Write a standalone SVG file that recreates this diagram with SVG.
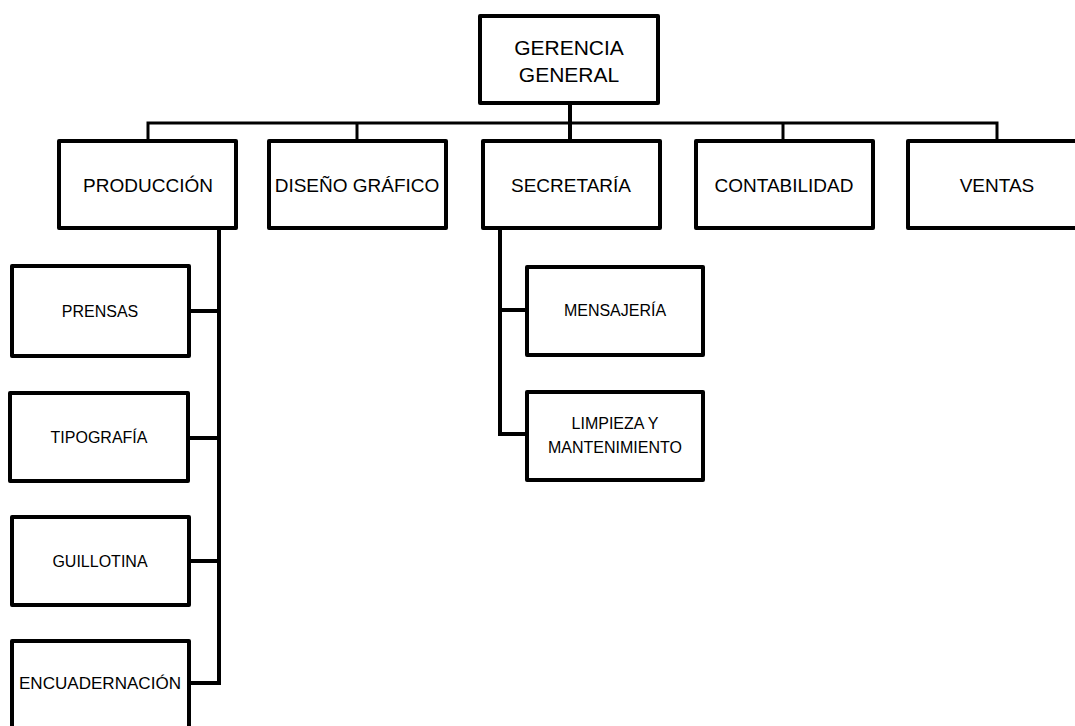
<svg xmlns="http://www.w3.org/2000/svg" width="1075" height="726" viewBox="0 0 1075 726">
  <style>
    .box { fill: #ffffff; stroke: #000000; stroke-width: 4; stroke-linejoin: round; }
    .line { fill: none; stroke: #000000; stroke-linejoin: miter; }
    .thin { stroke-width: 3; }
    .thick { stroke-width: 4; }
    text { font-family: "Liberation Sans", Arial, sans-serif; fill: #000000; text-anchor: middle; }
    .t1 { font-size: 19px; }
    .t0 { font-size: 21px; }
    .t2 { font-size: 16px; }
  </style>
  <rect width="1075" height="726" fill="#ffffff"/>

  <!-- connectors -->
  <g id="connectors">
    <path class="line thin" d="M148 141 V123 H997 V141"/>
    <path class="line thin" d="M357 123 V141"/>
    <path class="line thin" d="M783 123 V141"/>
    <path class="line thick" d="M570 103 V141"/>
    <path class="line thick" d="M219 228 V683 H189"/>
    <path class="line thick" d="M219 311 H189 M219 438 H189 M219 561 H189"/>
    <path class="line thick" d="M500 228 V434 H527 M500 310 H527"/>
  </g>

  <g id="gerencia">
    <rect class="box" x="480" y="16" width="178" height="87"/>
    <text class="t0" x="569" y="55">GERENCIA</text>
    <text class="t0" x="569" y="82">GENERAL</text>
  </g>

  <g id="produccion">
    <rect class="box" x="59" y="141" width="177" height="87"/>
    <text class="t1" x="148" y="192">PRODUCCIÓN</text>
  </g>
  <g id="diseno">
    <rect class="box" x="269" y="141" width="177" height="87"/>
    <text class="t1" x="357" y="192">DISEÑO GRÁFICO</text>
  </g>
  <g id="secretaria">
    <rect class="box" x="483" y="141" width="177" height="87"/>
    <text class="t1" x="571" y="192">SECRETARÍA</text>
  </g>
  <g id="contabilidad">
    <rect class="box" x="696" y="141" width="177" height="87"/>
    <text class="t1" x="784" y="192">CONTABILIDAD</text>
  </g>
  <g id="ventas">
    <rect class="box" x="908" y="141" width="177" height="87"/>
    <text class="t1" x="997" y="192">VENTAS</text>
  </g>

  <g id="prensas">
    <rect class="box" x="12" y="266" width="177" height="90"/>
    <text class="t2" x="100" y="317">PRENSAS</text>
  </g>
  <g id="tipografia">
    <rect class="box" x="10" y="393" width="178" height="88"/>
    <text class="t2" x="99" y="443">TIPOGRAFÍA</text>
  </g>
  <g id="guillotina">
    <rect class="box" x="12" y="517" width="177" height="88"/>
    <text class="t2" x="100" y="567">GUILLOTINA</text>
  </g>
  <g id="encuadernacion">
    <rect class="box" x="12" y="641" width="177" height="90"/>
    <text class="t2" x="100" y="689" textLength="162" lengthAdjust="spacingAndGlyphs">ENCUADERNACIÓN</text>
  </g>

  <g id="mensajeria">
    <rect class="box" x="527" y="267" width="176" height="88"/>
    <text class="t2" x="615" y="316">MENSAJERÍA</text>
  </g>
  <g id="limpieza">
    <rect class="box" x="527" y="392" width="176" height="88"/>
    <text class="t2" x="615" y="429">LIMPIEZA Y</text>
    <text class="t2" x="615" y="453">MANTENIMIENTO</text>
  </g>
</svg>
